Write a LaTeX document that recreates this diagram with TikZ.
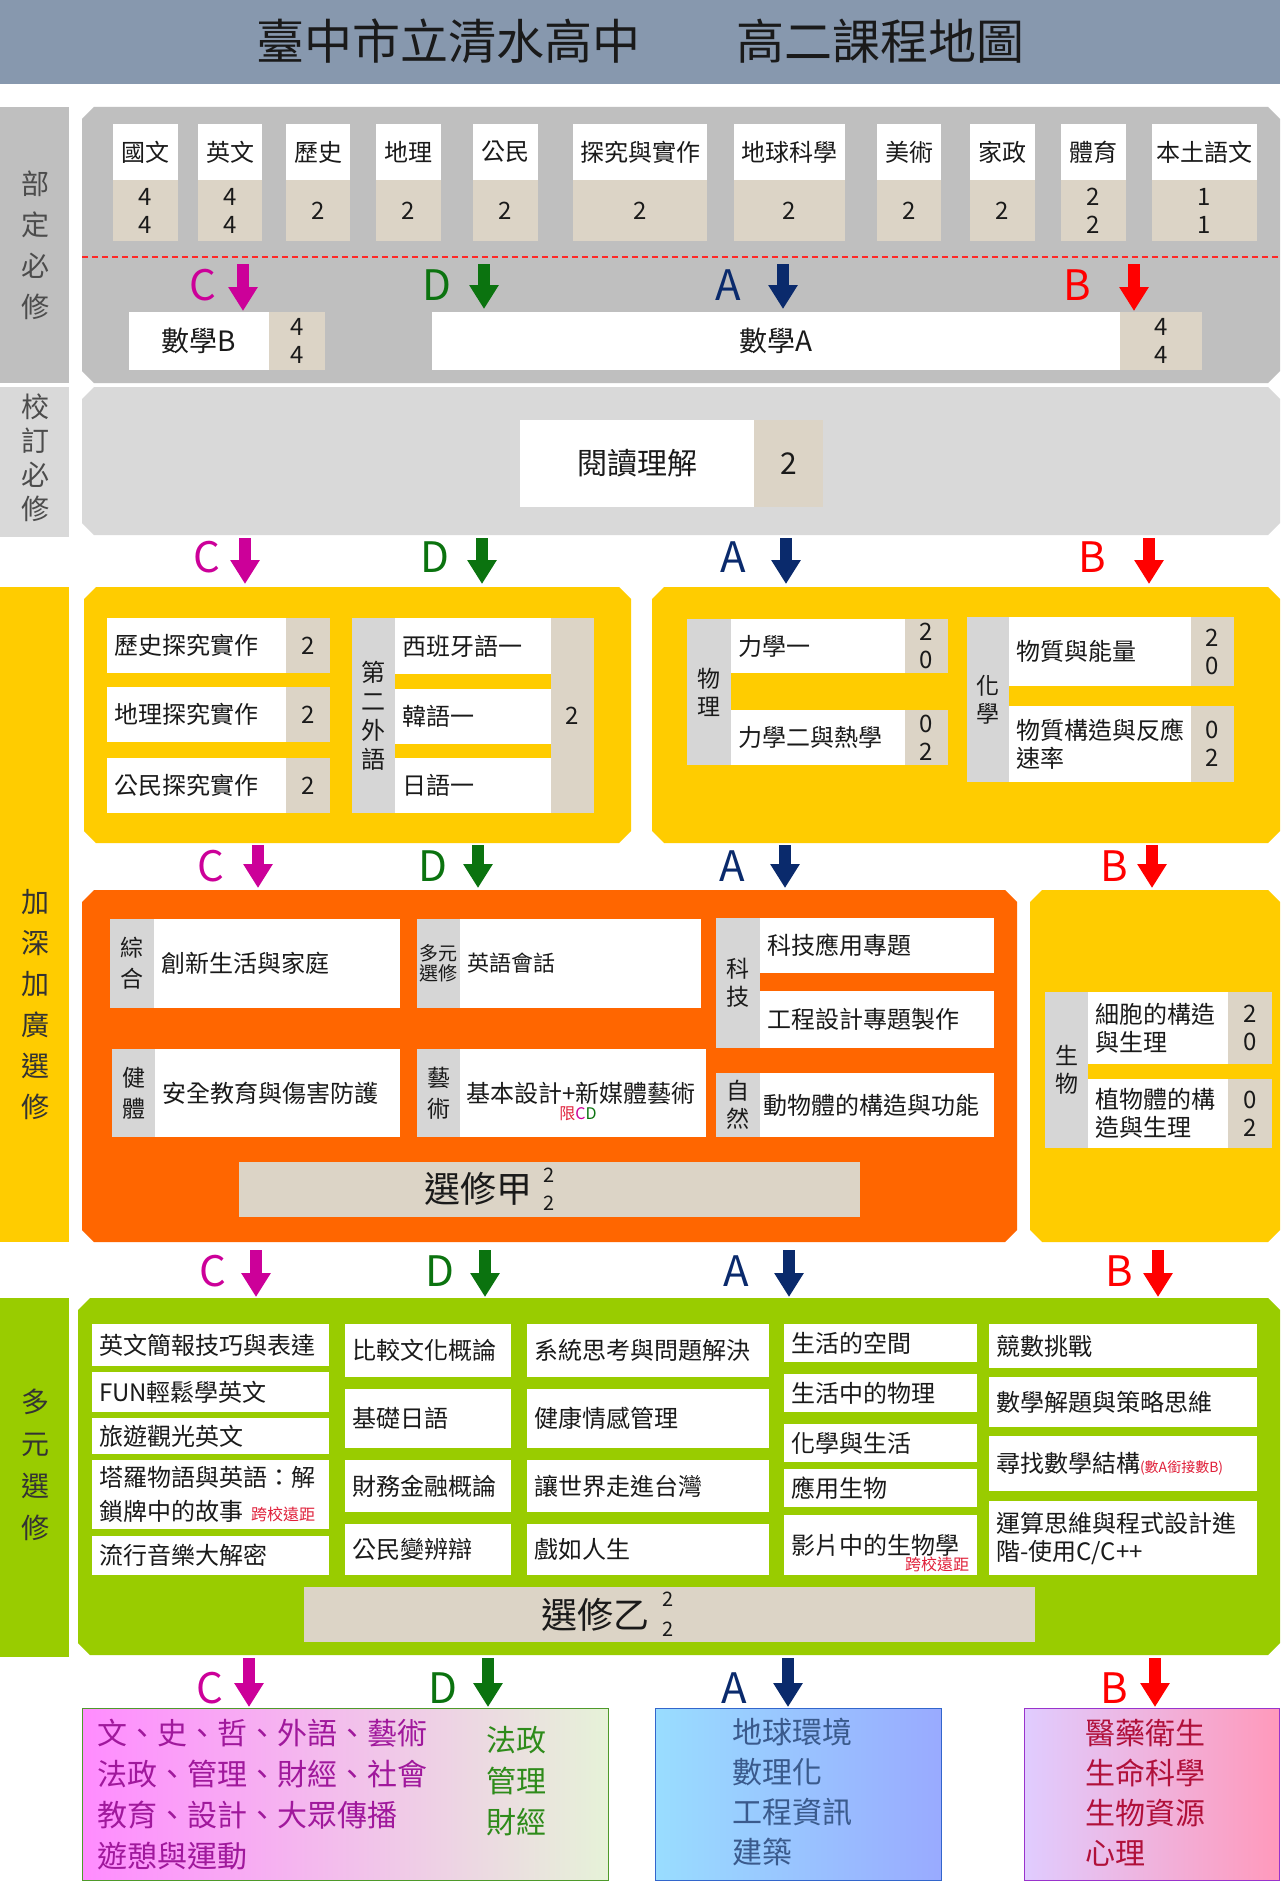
\documentclass[tikz,border=0pt]{standalone}
\usepackage{fontspec}
\setmainfont{Noto Sans CJK TC}
\usepackage{tikz}
\usetikzlibrary{arrows.meta, positioning}

\definecolor{titlebg}{HTML}{8798AE}
\definecolor{ink}{HTML}{1A1A1A}
\definecolor{greyA}{HTML}{BFBFBF}
\definecolor{greyB}{HTML}{D9D9D9}
\definecolor{colgrey}{HTML}{D6D6D6}
\definecolor{beige}{HTML}{DCD4C6}
\definecolor{gold}{HTML}{FFCC00}
\definecolor{orangeP}{HTML}{FF6600}
\definecolor{lime}{HTML}{99CC00}
\definecolor{cmag}{HTML}{CC0099}
\definecolor{cgreen}{HTML}{0B730F}
\definecolor{cnavy}{HTML}{0A2A6C}
\definecolor{cred}{HTML}{FF0000}
\definecolor{kred}{HTML}{E0203A}
\definecolor{pinkL}{HTML}{FF8CFF}
\definecolor{paleG}{HTML}{E6F2D8}
\definecolor{boxG}{HTML}{4E9A2A}
\definecolor{skyL}{HTML}{99DDFF}
\definecolor{skyR}{HTML}{99AAFF}
\definecolor{boxBlue}{HTML}{3366CC}
\definecolor{lavL}{HTML}{E0CCFF}
\definecolor{rosR}{HTML}{FF99BB}
\definecolor{boxPur}{HTML}{9933CC}
\definecolor{cdtext}{HTML}{A0189C}
\definecolor{dtext}{HTML}{2E8B1A}
\definecolor{atext}{HTML}{3A5A8C}
\definecolor{btext}{HTML}{B0103A}

\newcommand\chamferbox[5]{%
  \fill[#5] (#1+12,#2) -- (#3-12,#2) -- (#3,#2+12) -- (#3,#4-12) -- (#3-12,#4)
    -- (#1+12,#4) -- (#1,#4-12) -- (#1,#2+12) -- cycle;}

\tikzset{
  cellbase/.style={anchor=north west, inner sep=0pt, outer sep=0pt, align=center, text=ink, font=\fontsize{24}{28}\selectfont},
  namecell/.style={cellbase, fill=white},
  numcell/.style={cellbase, fill=beige},
  groupcol/.style={cellbase, fill=colgrey, font=\fontsize{23}{28}\selectfont},
  leftcell/.style={cellbase, fill=white, align=left, inner xsep=7pt},
  sidebox/.style={anchor=north west, inner sep=0pt, minimum width=69pt},
  sidetext/.style={align=center, font=\fontsize{28}{41}\selectfont},
  letter/.style={font=\fontsize{42}{42}\selectfont},
  blockarrow/.style={line width=12pt, -{Triangle[width=28pt,length=24pt]}},
  bottombox/.style={anchor=north west, inner sep=0pt, minimum height=172pt, line width=1pt},
  bottomtext/.style={align=left, font=\fontsize{30}{40}\selectfont},
  smallred/.style={text=kred, font=\fontsize{16}{16}\selectfont}
}

\begin{document}
\begin{tikzpicture}[x=1pt, y=-1pt]
\useasboundingbox (0,0) rectangle (1280,1881);
\fill[white] (0,0) rectangle (1280,1881);

% title
\fill[titlebg] (0,0) rectangle (1280,84);
\node[text=ink, font=\fontsize{48}{48}\selectfont] (title) at (640,41) {臺中市立清水高中　　高二課程地圖};

% side labels
\node[sidebox, fill=greyA, minimum height=276pt] (bdbox) at (0,107) {};
\node[sidetext, text=black!70] (bdtext) at (35,245) {部\\定\\必\\修};
\node[sidebox, fill=greyB, minimum height=150pt] (xdbox) at (0,387) {};
\node[sidetext, text=black!70, font=\fontsize{28}{34}\selectfont] (xdtext) at (35,458) {校\\訂\\必\\修};
\node[sidebox, fill=gold, minimum height=655pt] (jsbox) at (0,587) {};
\node[sidetext, text=black!80] (jstext) at (35,1005) {加\\深\\加\\廣\\選\\修};
\node[sidebox, fill=lime, minimum height=359pt] (dybox) at (0,1298) {};
\node[sidetext, text=black!80, font=\fontsize{28}{42}\selectfont] (dytext) at (35,1465) {多\\元\\選\\修};

% panels
\chamferbox{82}{107}{1280}{383}{greyA}
\chamferbox{82}{387}{1280}{535}{greyB}
\chamferbox{84}{587}{631}{843}{gold}
\chamferbox{652}{587}{1280}{843}{gold}
\chamferbox{82}{890}{1017}{1242}{orangeP}
\chamferbox{1030}{890}{1280}{1242}{gold}
\chamferbox{78}{1298}{1280}{1655}{lime}

% required subjects
\node[namecell, minimum width=65pt, minimum height=56pt] (guowen) at (113,124) {國文};
\node[numcell, minimum width=65pt, minimum height=61pt] (guowenN) at (113,180) {4\\4};
\node[namecell, minimum width=64pt, minimum height=56pt] (yingwen) at (198,124) {英文};
\node[numcell, minimum width=64pt, minimum height=61pt] (yingwenN) at (198,180) {4\\4};
\node[namecell, minimum width=64pt, minimum height=56pt] (lishi) at (286,124) {歷史};
\node[numcell, minimum width=64pt, minimum height=61pt] (lishiN) at (286,180) {2};
\node[namecell, minimum width=65pt, minimum height=56pt] (dili) at (376,124) {地理};
\node[numcell, minimum width=65pt, minimum height=61pt] (diliN) at (376,180) {2};
\node[namecell, minimum width=65pt, minimum height=56pt] (gongmin) at (473,124) {公民};
\node[numcell, minimum width=65pt, minimum height=61pt] (gongminN) at (473,180) {2};
\node[namecell, minimum width=134pt, minimum height=56pt] (tanjiu) at (573,124) {探究與實作};
\node[numcell, minimum width=134pt, minimum height=61pt] (tanjiuN) at (573,180) {2};
\node[namecell, minimum width=111pt, minimum height=56pt] (diqiu) at (734,124) {地球科學};
\node[numcell, minimum width=111pt, minimum height=61pt] (diqiuN) at (734,180) {2};
\node[namecell, minimum width=64pt, minimum height=56pt] (meishu) at (877,124) {美術};
\node[numcell, minimum width=64pt, minimum height=61pt] (meishuN) at (877,180) {2};
\node[namecell, minimum width=65pt, minimum height=56pt] (jiazheng) at (970,124) {家政};
\node[numcell, minimum width=65pt, minimum height=61pt] (jiazhengN) at (970,180) {2};
\node[namecell, minimum width=65pt, minimum height=56pt] (tiyu) at (1061,124) {體育};
\node[numcell, minimum width=65pt, minimum height=61pt] (tiyuN) at (1061,180) {2\\2};
\node[namecell, minimum width=105pt, minimum height=56pt] (bentu) at (1152,124) {本土語文};
\node[numcell, minimum width=105pt, minimum height=61pt] (bentuN) at (1152,180) {1\\1};
\draw[cred!85, line width=1.5pt, dash pattern=on 6pt off 4pt] (82,257) -- (1280,257);

\node[namecell, minimum width=140pt, minimum height=58pt, font=\fontsize{28}{32}\selectfont] (mathB) at (129,312) {數學B};
\node[numcell, minimum width=56pt, minimum height=58pt] (mathBN) at (269,312) {4\\4};
\node[namecell, minimum width=688pt, minimum height=58pt, font=\fontsize{28}{32}\selectfont] (mathA) at (432,312) {數學A};
\node[numcell, minimum width=82pt, minimum height=58pt] (mathAN) at (1120,312) {4\\4};

% school required
\node[namecell, minimum width=234pt, minimum height=87pt, font=\fontsize{30}{34}\selectfont] (yuedu) at (520,420) {閱讀理解};
\node[numcell, minimum width=69pt, minimum height=87pt, font=\fontsize{30}{34}\selectfont] (yueduN) at (754,420) {2};

% advanced electives, upper yellow
\node[leftcell, text width=165pt, minimum height=55pt] (lishiT) at (107,618) {歷史探究實作};
\node[numcell, minimum width=44pt, minimum height=55pt] (lishiTN) at (286,618) {2};
\node[leftcell, text width=165pt, minimum height=55pt] (diliT) at (107,687) {地理探究實作};
\node[numcell, minimum width=44pt, minimum height=55pt] (diliTN) at (286,687) {2};
\node[leftcell, text width=165pt, minimum height=55pt] (gongminT) at (107,758) {公民探究實作};
\node[numcell, minimum width=44pt, minimum height=55pt] (gongminTN) at (286,758) {2};
\node[groupcol, minimum width=43pt, minimum height=195pt, font=\fontsize{24}{29}\selectfont] (waiyu) at (352,618) {第\\二\\外\\語};
\node[leftcell, text width=142pt, minimum height=56pt] (xibanya) at (395,618) {西班牙語一};
\node[leftcell, text width=142pt, minimum height=55pt] (hanyu) at (395,689) {韓語一};
\node[leftcell, text width=142pt, minimum height=55pt] (riyu) at (395,758) {日語一};
\node[numcell, minimum width=43pt, minimum height=195pt] (waiyuN) at (551,618) {2};

\node[groupcol, minimum width=44pt, minimum height=146pt] (wuli) at (687,619) {物\\理};
\node[leftcell, text width=160pt, minimum height=54pt] (lixue1) at (731,619) {力學一};
\node[numcell, minimum width=43pt, minimum height=54pt] (lixue1N) at (905,619) {2\\0};
\node[leftcell, text width=160pt, minimum height=55pt] (lixue2) at (731,710) {力學二與熱學};
\node[numcell, minimum width=43pt, minimum height=55pt] (lixue2N) at (905,710) {0\\2};
\node[groupcol, minimum width=42pt, minimum height=165pt] (huaxue) at (967,617) {化\\學};
\node[leftcell, text width=168pt, minimum height=69pt] (wuzhi1) at (1009,617) {物質與能量};
\node[numcell, minimum width=43pt, minimum height=69pt] (wuzhi1N) at (1191,617) {2\\0};
\node[leftcell, text width=168pt, minimum height=76pt] (wuzhi2) at (1009,706) {物質構造與反應\\速率};
\node[numcell, minimum width=43pt, minimum height=76pt] (wuzhi2N) at (1191,706) {0\\2};

% advanced electives, orange
\node[groupcol, minimum width=44pt, minimum height=89pt, font=\fontsize{23}{31}\selectfont] (zonghe) at (110,919) {綜\\合};
\node[leftcell, text width=232pt, minimum height=89pt] (chuangxin) at (154,919) {創新生活與家庭};
\node[groupcol, minimum width=43pt, minimum height=89pt, font=\fontsize{19}{20}\selectfont] (duoyuan) at (417,919) {多元\\選修};
\node[leftcell, text width=227pt, minimum height=89pt, font=\fontsize{22}{26}\selectfont] (yingyu) at (460,919) {英語會話};
\node[groupcol, minimum width=43pt, minimum height=88pt, font=\fontsize{23}{31}\selectfont] (jianti) at (112,1049) {健\\體};
\node[leftcell, text width=231pt, minimum height=88pt] (anquan) at (155,1049) {安全教育與傷害防護};
\node[groupcol, minimum width=43pt, minimum height=88pt, font=\fontsize{23}{31}\selectfont] (yishu) at (417,1049) {藝\\術};
\node[leftcell, text width=234pt, minimum height=88pt, inner xsep=6pt] (jiben) at (460,1049) {基本設計+新媒體藝術};
\node[font=\fontsize{16}{16}\selectfont] (xianCD) at (578,1114) {\textcolor{kred}{限}\textcolor{cmag}{C}\textcolor{cgreen}{D}};
\node[groupcol, minimum width=44pt, minimum height=130pt] (keji) at (716,918) {科\\技};
\node[leftcell, text width=220pt, minimum height=55pt] (kejiyy) at (760,918) {科技應用專題};
\node[leftcell, text width=220pt, minimum height=57pt] (gongcheng) at (760,991) {工程設計專題製作};
\node[groupcol, minimum width=44pt, minimum height=64pt] (ziran) at (716,1073) {自\\然};
\node[leftcell, text width=228pt, minimum height=64pt, inner xsep=3pt] (dongwu) at (760,1073) {動物體的構造與功能};
\node[numcell, minimum width=621pt, minimum height=55pt] (xuanjia) at (239,1162) {};
\node[text=ink, font=\fontsize{36}{36}\selectfont] (xuanjiaT) at (478,1189) {選修甲};
\node[text=ink, align=center, font=\fontsize{20}{28}\selectfont] (xuanjiaN) at (549,1189) {2\\2};

% advanced electives, biology
\node[groupcol, minimum width=43pt, minimum height=156pt] (shengwu) at (1045,992) {生\\物};
\node[leftcell, text width=126pt, minimum height=72pt] (xibao) at (1088,992) {細胞的構造\\與生理};
\node[numcell, minimum width=44pt, minimum height=72pt] (xibaoN) at (1228,992) {2\\0};
\node[leftcell, text width=126pt, minimum height=69pt] (zhiwu) at (1088,1079) {植物體的構\\造與生理};
\node[numcell, minimum width=44pt, minimum height=69pt] (zhiwuN) at (1228,1079) {0\\2};

% diverse electives
\node[leftcell, text width=223pt, minimum height=42pt] (yw1) at (92,1324) {英文簡報技巧與表達};
\node[leftcell, text width=223pt, minimum height=40pt] (yw2) at (92,1372) {FUN輕鬆學英文};
\node[leftcell, text width=223pt, minimum height=36pt] (yw3) at (92,1418) {旅遊觀光英文};
\node[leftcell, text width=223pt, minimum height=69pt, font=\fontsize{24}{34}\selectfont] (yw4) at (92,1460) {塔羅物語與英語：解\\鎖牌中的故事 {\color{kred}\fontsize{16}{16}\selectfont 跨校遠距}};
\node[leftcell, text width=223pt, minimum height=39pt] (yw5) at (92,1536) {流行音樂大解密};
\node[leftcell, text width=152pt, minimum height=53pt] (bijiao) at (345,1324) {比較文化概論};
\node[leftcell, text width=152pt, minimum height=59pt] (jichu) at (345,1389) {基礎日語};
\node[leftcell, text width=152pt, minimum height=52pt] (caiwu) at (345,1460) {財務金融概論};
\node[leftcell, text width=152pt, minimum height=51pt] (gongminB) at (345,1524) {公民變辨辯};
\node[leftcell, text width=228pt, minimum height=53pt] (xitong) at (527,1324) {系統思考與問題解決};
\node[leftcell, text width=228pt, minimum height=59pt] (jiankang) at (527,1389) {健康情感管理};
\node[leftcell, text width=228pt, minimum height=52pt] (rangsj) at (527,1460) {讓世界走進台灣};
\node[leftcell, text width=228pt, minimum height=51pt] (xiru) at (527,1524) {戲如人生};
\node[leftcell, text width=179pt, minimum height=38pt] (kongjian) at (784,1324) {生活的空間};
\node[leftcell, text width=179pt, minimum height=38pt] (wulish) at (784,1374) {生活中的物理};
\node[leftcell, text width=179pt, minimum height=38pt] (huaxuesh) at (784,1424) {化學與生活};
\node[leftcell, text width=179pt, minimum height=38pt] (yingyong) at (784,1469) {應用生物};
\node[leftcell, text width=179pt, minimum height=60pt] (yingpian) at (784,1515) {影片中的生物學};
\node[smallred] (yingpianR) at (937,1564) {跨校遠距};
\node[leftcell, text width=254pt, minimum height=44pt] (jingshu) at (989,1324) {競數挑戰};
\node[leftcell, text width=254pt, minimum height=50pt] (jieti) at (989,1377) {數學解題與策略思維};
\node[leftcell, text width=254pt, minimum height=55pt] (xunzhao) at (989,1436) {尋找數學結構{\color{kred}\fontsize{14}{14}\selectfont(數A銜接數B)}};
\node[leftcell, text width=254pt, minimum height=74pt] (yunsuan) at (989,1501) {運算思維與程式設計進\\階-使用C/C++};
\node[numcell, minimum width=731pt, minimum height=55pt] (xuanyi) at (304,1587) {};
\node[text=ink, font=\fontsize{36}{36}\selectfont] (xuanyiT) at (595,1615) {選修乙};
\node[text=ink, align=center, font=\fontsize{20}{30}\selectfont] (xuanyiN) at (668,1614) {2\\2};

% track arrows C
\node[letter, text=cmag] (C1) at (203,285) {C};
\coordinate (C1s) at (243,264); \coordinate (C1e) at (243,311);
\draw[blockarrow, cmag] (C1s) -- (C1e);
\node[letter, text=cmag] (C2) at (207,557) {C};
\coordinate (C2s) at (245,538); \coordinate (C2e) at (245,584);
\draw[blockarrow, cmag] (C2s) -- (C2e);
\node[letter, text=cmag] (C3) at (211,866) {C};
\coordinate (C3s) at (258,845); \coordinate (C3e) at (258,888);
\draw[blockarrow, cmag] (C3s) -- (C3e);
\node[letter, text=cmag] (C4) at (213,1271) {C};
\coordinate (C4s) at (256,1250); \coordinate (C4e) at (256,1297);
\draw[blockarrow, cmag] (C4s) -- (C4e);
\node[letter, text=cmag] (C5) at (210,1688) {C};
\coordinate (C5s) at (249,1658); \coordinate (C5e) at (249,1707);
\draw[blockarrow, cmag] (C5s) -- (C5e);

% track arrows D
\node[letter, text=cgreen] (D1) at (437,285) {D};
\coordinate (D1s) at (484,264); \coordinate (D1e) at (484,309);
\draw[blockarrow, cgreen] (D1s) -- (D1e);
\node[letter, text=cgreen] (D2) at (435,557) {D};
\coordinate (D2s) at (482,538); \coordinate (D2e) at (482,584);
\draw[blockarrow, cgreen] (D2s) -- (D2e);
\node[letter, text=cgreen] (D3) at (433,866) {D};
\coordinate (D3s) at (478,845); \coordinate (D3e) at (478,888);
\draw[blockarrow, cgreen] (D3s) -- (D3e);
\node[letter, text=cgreen] (D4) at (440,1271) {D};
\coordinate (D4s) at (485,1250); \coordinate (D4e) at (485,1297);
\draw[blockarrow, cgreen] (D4s) -- (D4e);
\node[letter, text=cgreen] (D5) at (443,1688) {D};
\coordinate (D5s) at (488,1658); \coordinate (D5e) at (488,1707);
\draw[blockarrow, cgreen] (D5s) -- (D5e);

% track arrows A
\node[letter, text=cnavy] (A1) at (728,285) {A};
\coordinate (A1s) at (783,264); \coordinate (A1e) at (783,309);
\draw[blockarrow, cnavy] (A1s) -- (A1e);
\node[letter, text=cnavy] (A2) at (733,557) {A};
\coordinate (A2s) at (786,538); \coordinate (A2e) at (786,584);
\draw[blockarrow, cnavy] (A2s) -- (A2e);
\node[letter, text=cnavy] (A3) at (732,866) {A};
\coordinate (A3s) at (785,845); \coordinate (A3e) at (785,888);
\draw[blockarrow, cnavy] (A3s) -- (A3e);
\node[letter, text=cnavy] (A4) at (736,1271) {A};
\coordinate (A4s) at (789,1250); \coordinate (A4e) at (789,1297);
\draw[blockarrow, cnavy] (A4s) -- (A4e);
\node[letter, text=cnavy] (A5) at (734,1688) {A};
\coordinate (A5s) at (788,1658); \coordinate (A5e) at (788,1707);
\draw[blockarrow, cnavy] (A5s) -- (A5e);

% track arrows B
\node[letter, text=cred] (B1) at (1077,285) {B};
\coordinate (B1s) at (1134,264); \coordinate (B1e) at (1134,311);
\draw[blockarrow, cred] (B1s) -- (B1e);
\node[letter, text=cred] (B2) at (1092,557) {B};
\coordinate (B2s) at (1149,538); \coordinate (B2e) at (1149,584);
\draw[blockarrow, cred] (B2s) -- (B2e);
\node[letter, text=cred] (B3) at (1114,866) {B};
\coordinate (B3s) at (1152,845); \coordinate (B3e) at (1152,888);
\draw[blockarrow, cred] (B3s) -- (B3e);
\node[letter, text=cred] (B4) at (1119,1271) {B};
\coordinate (B4s) at (1158,1250); \coordinate (B4e) at (1158,1297);
\draw[blockarrow, cred] (B4s) -- (B4e);
\node[letter, text=cred] (B5) at (1114,1688) {B};
\coordinate (B5s) at (1155,1658); \coordinate (B5e) at (1155,1707);
\draw[blockarrow, cred] (B5s) -- (B5e);

% study fields
\node[bottombox, minimum width=526pt, left color=pinkL, right color=paleG, draw=boxG] (cdbox) at (82,1708) {};
\node[bottomtext, anchor=west, text=cdtext, font=\fontsize{30}{41}\selectfont] (cdlist) at (94,1795) {文、史、哲、外語、藝術\\法政、管理、財經、社會\\教育、設計、大眾傳播\\遊憩與運動};
\node[bottomtext, align=center, text=dtext, font=\fontsize{30}{41}\selectfont] (dlist) at (516,1781) {法政\\管理\\財經};
\node[bottombox, minimum width=286pt, left color=skyL, right color=skyR, draw=boxBlue] (abox) at (655,1708) {};
\node[bottomtext, anchor=west, text=atext] (alist) at (729,1792) {地球環境\\數理化\\工程資訊\\建築};
\node[bottombox, minimum width=255pt, left color=lavL, right color=rosR, draw=boxPur] (bbox) at (1024,1708) {};
\node[bottomtext, anchor=west, text=btext] (blist) at (1082,1793) {醫藥衛生\\生命科學\\生物資源\\心理};

\end{tikzpicture}
\end{document}
